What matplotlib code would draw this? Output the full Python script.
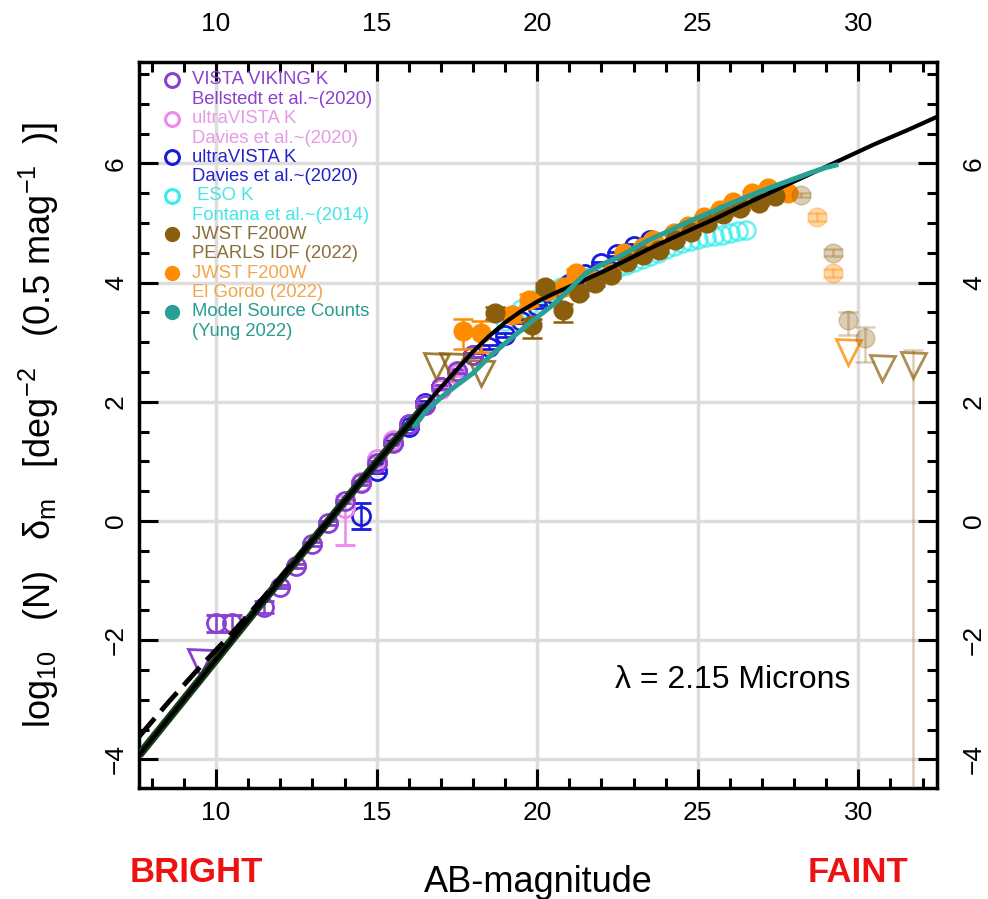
import numpy as np
import matplotlib.pyplot as plt
from matplotlib.ticker import MultipleLocator

plt.rcParams['font.family'] = ['Liberation Sans', 'DejaVu Sans']
plt.rcParams['mathtext.fontset'] = 'custom'
plt.rcParams['mathtext.rm'] = 'Liberation Sans'
plt.rcParams['mathtext.it'] = 'Liberation Sans:italic'

# VISTA VIKING K (Bellstedt 2020)
viking_m = [10.0, 10.5, 11.5, 12.0, 12.5, 13.0, 13.5, 14.0, 14.5, 15.0, 15.5, 16.0, 16.5, 17.0, 17.5, 18.0]
viking_v = [-1.72, -1.72, -1.45, -1.10, -0.76, -0.39, -0.03, 0.33, 0.64, 0.97, 1.30, 1.62, 1.95, 2.25, 2.52, 2.78]
viking_err = [0.14, 0.14, 0.10, 0.03, 0.03, 0.03, 0.03, 0.03, 0.03, 0.03, 0.03, 0.03, 0.03, 0.03, 0.03, 0.03]
viking_lim_m = [9.5]
viking_lim_v = [-2.36]

# ultraVISTA K (Davies 2020), pink
uvp_m = [14.0, 14.5, 15.0, 15.5, 16.0, 16.5, 17.0, 17.5]
uvp_v = [0.22, 0.66, 1.04, 1.36, 1.62, 1.95, 2.22, 2.47]
uvp_lo = [0.62, 0.03, 0.03, 0.03, 0.03, 0.03, 0.03, 0.03]
uvp_hi = [0.20, 0.03, 0.03, 0.03, 0.03, 0.03, 0.03, 0.03]

# ultraVISTA K (Davies 2020), blue
uvb_m = [14.5, 15.0, 15.5, 16.0, 16.5, 17.0, 17.5, 18.0, 18.5, 19.0, 19.5, 20.0,
         20.5, 21.0, 21.5, 22.0, 22.5, 23.0, 23.5]
uvb_v = [0.08, 0.84, 1.32, 1.58, 1.98, 2.25, 2.50, 2.78, 2.92, 3.12, 3.35, 3.60,
         3.80, 3.98, 4.15, 4.32, 4.48, 4.62, 4.72]
uvb_err = [0.22] + [0.03] * 18

# ESO K (Fontana 2014)
eso_m = [19.0, 19.25, 19.5, 19.75, 20.0, 20.25, 20.5, 20.75, 21.0, 21.25, 21.5, 21.75,
         22.0, 22.25, 22.5, 22.75, 23.0, 23.25, 23.5, 23.75, 24.0, 24.25, 24.5, 24.75,
         25.0, 25.25, 25.5, 25.75, 26.0, 26.25, 26.5]
eso_v = [3.35, 3.45, 3.55, 3.63, 3.72, 3.80, 3.87, 3.93, 3.99, 4.04, 4.08, 4.12,
         4.16, 4.20, 4.25, 4.30, 4.35, 4.40, 4.45, 4.50, 4.56, 4.61, 4.66, 4.70,
         4.73, 4.76, 4.78, 4.80, 4.83, 4.86, 4.88]

# JWST F200W PEARLS IDF
idf_m = [18.7, 19.85, 20.25, 20.8, 21.3, 21.8, 22.3, 22.8, 23.3, 23.8, 24.3, 24.8,
         25.3, 25.8, 26.3, 26.9, 27.4]
idf_v = [3.49, 3.29, 3.92, 3.54, 3.83, 4.00, 4.12, 4.35, 4.47, 4.55, 4.71, 4.85,
         5.00, 5.15, 5.25, 5.33, 5.45]
idf_lo = [0.10, 0.22, 0.08, 0.20, 0.06, 0.05, 0.04, 0.03, 0.03, 0.03, 0.03, 0.03,
          0.03, 0.03, 0.03, 0.03, 0.03]
idf_hi = [0.10, 0.10, 0.08, 0.10, 0.06, 0.05, 0.04, 0.03, 0.03, 0.03, 0.03, 0.03,
          0.03, 0.03, 0.03, 0.03, 0.03]
idf_faint_m = [28.2, 29.2, 29.69, 30.22]
idf_faint_v = [5.47, 4.50, 3.37, 3.07]
idf_faint_lo = [0.04, 0.06, 0.25, 0.41]
idf_faint_hi = [0.04, 0.06, 0.13, 0.18]
idf_lim_m = [16.85, 17.35, 18.25, 30.75, 31.71]
idf_lim_v = [2.60, 2.60, 2.48, 2.57, 2.62]

# JWST F200W El Gordo
elg_m = [17.7, 18.25, 19.2, 19.75, 20.3, 20.82, 21.2, 21.76, 22.3, 22.7, 23.3, 23.6,
         24.25, 24.7, 25.18, 25.7, 26.1, 26.7, 27.2, 27.8]
elg_v = [3.18, 3.16, 3.46, 3.71, 3.85, 3.93, 4.16, 4.04, 4.16, 4.50, 4.60, 4.71,
         4.83, 4.95, 5.10, 5.22, 5.35, 5.50, 5.59, 5.50]
elg_lo = [0.30, 0.33, 0.12, 0.10, 0.08, 0.07, 0.06, 0.05, 0.05, 0.04, 0.04, 0.04,
          0.03, 0.03, 0.03, 0.03, 0.03, 0.03, 0.03, 0.03]
elg_hi = [0.20, 0.20, 0.12, 0.10, 0.08, 0.07, 0.06, 0.05, 0.05, 0.04, 0.04, 0.04,
          0.03, 0.03, 0.03, 0.03, 0.03, 0.03, 0.03, 0.03]
elg_faint_m = [28.72, 29.2]
elg_faint_v = [5.10, 4.16]
elg_lim_m = [29.69]
elg_lim_v = [2.84]

# model curves
fit_m = [7.6, 8.5, 9.5, 10.5, 11.5, 12.5, 13.5, 14.5, 15.5, 16.5, 17.0, 17.5, 18.0,
         18.5, 19.0, 19.5, 20.0, 20.5, 21.0, 21.5, 22.0, 22.5, 23.5, 24.5, 25.5, 26.5,
         27.5, 28.5, 29.5, 30.5, 31.5, 32.45]
fit_v = [-3.93, -3.33, -2.66, -1.99, -1.32, -0.66, 0.0, 0.66, 1.30, 1.93, 2.24, 2.54,
         2.84, 3.10, 3.33, 3.52, 3.68, 3.81, 3.93, 4.05, 4.17, 4.30, 4.57, 4.82, 5.06,
         5.32, 5.57, 5.82, 6.07, 6.32, 6.55, 6.78]
dash_m = [7.6, 8.5, 9.5, 10.5, 11.5, 12.5, 13.5]
dash_v = [-3.62, -3.05, -2.45, -1.88, -1.27, -0.64, 0.0]
yung_m = [16.2, 16.5, 17.0, 17.5, 18.0, 18.5, 19.0, 19.5, 20.0, 20.5, 21.0, 21.5, 22.0,
          22.5, 23.0, 23.5, 24.0, 24.5, 25.0, 25.5, 26.0, 26.5, 27.0, 27.5, 28.0, 28.5,
          29.0, 29.3]
yung_v = [1.60, 1.82, 2.07, 2.28, 2.48, 2.75, 2.98, 3.20, 3.42, 3.63, 3.88, 4.15, 4.30,
          4.42, 4.57, 4.72, 4.84, 4.97, 5.09, 5.20, 5.32, 5.43, 5.54, 5.64, 5.74, 5.84,
          5.93, 5.97]

# legend
leg_labels = [('VISTA VIKING K', 'Bellstedt et al.~(2020)'),
              ('ultraVISTA K', 'Davies et al.~(2020)'),
              ('ultraVISTA K', 'Davies et al.~(2020)'),
              (' ESO K', 'Fontana et al.~(2014)'),
              ('JWST F200W', 'PEARLS IDF (2022)'),
              ('JWST F200W', 'El Gordo (2022)'),
              ('Model Source Counts', '(Yung 2022)')]

c_purple = '#8a40d0'
c_pink = '#ee88ee'
c_blue = '#1a1adf'
c_cyan = '#33eeee'
c_brown = '#8b5e0b'
c_orange = '#ff8c00'
c_teal = '#28a096'

fig = plt.figure(figsize=(9.88, 8.99), dpi=100)
ax = fig.add_axes([139 / 988, 1 - 788 / 899, 798 / 988, 726 / 899])

ax.grid(which='major', color='#dddddd', lw=2.5)
ax.set_axisbelow(True)

ms_open = 13
ms_fill = 13.5
eb = dict(elinewidth=1.8, capsize=7, capthick=1.8)

ax.errorbar(eso_m, eso_v, fmt='o', ms=ms_open, mfc='none', mec=c_cyan, mew=1.8,
            color=c_cyan, alpha=0.75, zorder=3)
ax.errorbar(uvb_m, uvb_v, yerr=uvb_err, fmt='o', ms=ms_open, mfc='none',
            mec=c_blue, mew=2, ecolor=c_blue, zorder=4, **eb)
ax.errorbar(uvp_m, uvp_v, yerr=[uvp_lo, uvp_hi], fmt='o', ms=ms_open,
            mfc='none', mec=c_pink, mew=2, ecolor=c_pink, zorder=4, **eb)
ax.errorbar(viking_m, viking_v, yerr=viking_err, fmt='o', ms=ms_open,
            mfc='none', mec=c_purple, mew=2, ecolor=c_purple, zorder=4, **eb)
ax.plot(viking_lim_m, viking_lim_v, 'v', ms=18, mfc='none', mec=c_purple, mew=2, zorder=4)

ax.errorbar(elg_m, elg_v, yerr=[elg_lo, elg_hi], fmt='o', ms=ms_fill, color=c_orange,
            zorder=5, **eb)
ax.errorbar(idf_m, idf_v, yerr=[idf_lo, idf_hi], fmt='o', ms=ms_fill, color=c_brown,
            zorder=5, **eb)
ax.errorbar(idf_faint_m, idf_faint_v, yerr=[idf_faint_lo, idf_faint_hi], fmt='o',
            ms=ms_fill, color=c_brown, alpha=0.3, zorder=5, **eb)
ax.errorbar(elg_faint_m, elg_faint_v, yerr=0.06, fmt='o', ms=ms_fill, color=c_orange,
            alpha=0.35, zorder=5, **eb)
ax.plot(idf_lim_m[:3], idf_lim_v[:3], 'v', ms=18, mfc='none', mec=c_brown, mew=2,
        alpha=0.8, zorder=5)
ax.plot(idf_lim_m[3:], idf_lim_v[3:], 'v', ms=18, mfc='none', mec=c_brown, mew=2,
        alpha=0.7, zorder=5)
ax.errorbar(idf_lim_m[-1:], idf_lim_v[-1:], yerr=[[8.0], [0.25]], fmt='none',
            ecolor=c_brown, alpha=0.3, zorder=5, **eb)
ax.plot(elg_lim_m, elg_lim_v, 'v', ms=18, mfc='none', mec=c_orange, mew=2,
        alpha=0.8, zorder=5)

ax.plot(fit_m[:10], fit_v[:10], color='#153d15', lw=6, zorder=6, solid_capstyle='butt')
ax.plot(dash_m, dash_v, color='black', lw=3.5, ls=(0, (5, 2)), zorder=6)
ax.plot(fit_m, fit_v, color='black', lw=3, zorder=7)
ax.plot(yung_m, yung_v, color=c_teal, lw=3.6, zorder=8)

ax.set_xlim(7.6, 32.45)
ax.set_ylim(-4.48, 7.7)
ax.set_xticks([10, 15, 20, 25, 30])
ax.set_yticks([-4, -2, 0, 2, 4, 6])
ax.xaxis.set_minor_locator(MultipleLocator(1))
ax.yaxis.set_minor_locator(MultipleLocator(0.5))
ax.tick_params(which='both', direction='in', top=True, right=True, width=2.2, labelsize=19)
ax.tick_params(which='major', length=14)
ax.tick_params(which='minor', length=7)
ax.tick_params(axis='x', pad=9)
ax.tick_params(axis='y', labelrotation=90, pad=8)
for lab in ax.get_yticklabels():
    lab.set_verticalalignment('center')
for sp in ax.spines.values():
    sp.set_linewidth(2.5)

top = ax.secondary_xaxis('top')
top.set_xticks([10, 15, 20, 25, 30])
top.tick_params(length=0, labelsize=19, pad=19)
top.spines['top'].set_visible(False)
right = ax.secondary_yaxis('right')
right.set_yticks([-4, -2, 0, 2, 4, 6])
right.tick_params(length=0, labelsize=19, pad=18, labelrotation=90)
for lab in right.get_yticklabels():
    lab.set_verticalalignment('center')
right.spines['right'].set_visible(False)

ax.set_xlabel('AB-magnitude', fontsize=26, labelpad=29)
ax.set_ylabel('log$_{10}$   (N)   δ$_{\\rm m}$   [deg$^{-2}$   (0.5 mag$^{-1}$  )]',
              fontsize=26, labelpad=31)
ax.text(0.596, 0.149, 'λ = 2.15 Microns', transform=ax.transAxes, fontsize=23,
        ha='left', va='center')
fig.text(196 / 988, 1 - 872 / 899, 'BRIGHT', color='#ee1111', fontsize=25,
         fontweight='bold', ha='center', va='center')
fig.text(858 / 988, 1 - 872 / 899, 'FAINT', color='#ee1111', fontsize=25,
         fontweight='bold', ha='center', va='center')

# legend drawn entry by entry: marker beside the first line of each label
leg_marker = [dict(mfc='none', mec=c_purple, mew=2.2), dict(mfc='none', mec=c_pink, mew=2.2),
              dict(mfc='none', mec=c_blue, mew=2.2), dict(mfc='none', mec=c_cyan, mew=2.2),
              dict(color=c_brown), dict(color=c_orange), dict(color=c_teal)]
leg_colors = [c_purple, '#e59be5', '#2323c8', '#44e6e6', '#8b6f3a', '#f2a64c', '#2a9d8f']
for i, (l1, l2) in enumerate(leg_labels):
    ypx = 80 + 38.6 * i
    ya = (788 - ypx) / 726
    ax.plot([(172 - 139) / 798], [ya], 'o', ms=10, transform=ax.transAxes,
            clip_on=False, zorder=9, **leg_marker[i])
    ax.text((192 - 139) / 798, ya, l1, color=leg_colors[i], fontsize=13.3,
            transform=ax.transAxes, ha='left', va='center')
    ax.text((192 - 139) / 798, (788 - ypx - 19.5) / 726, l2, color=leg_colors[i],
            fontsize=13.3, transform=ax.transAxes, ha='left', va='center')

fig.savefig('out.png', dpi=100)
